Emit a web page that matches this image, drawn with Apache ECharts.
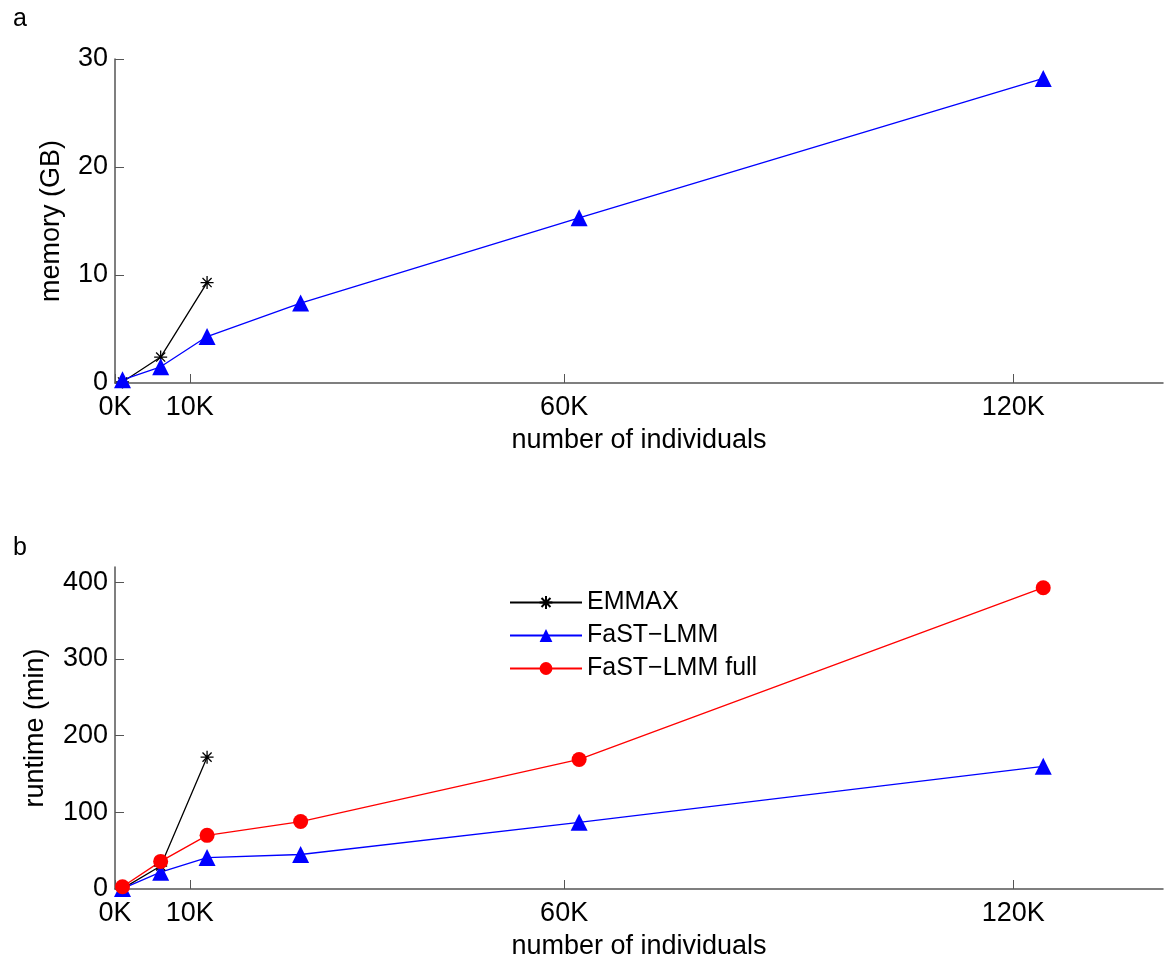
<!DOCTYPE html>
<html>
<head>
<meta charset="utf-8">
<script src="https://cdn.jsdelivr.net/npm/echarts@6/dist/echarts.min.js"></script>
<style>
  html, body { margin: 0; padding: 0; background: #fff; }
  #chart { width: 1164px; height: 961px; }
</style>
</head>
<body>
<div id="chart"></div>
<script type="text/javascript">
// number of individuals (thousands)
var xFast = [1, 6.1, 12.3, 24.8, 62, 124];
var xEmmax = [1, 6.1, 12.3];
var xTicks = [0, 10, 60, 120];

// panel a: memory (GB)
var memEmmax = [0.1, 2.4, 9.3];
var memFast = [0.3, 1.5, 4.3, 7.4, 15.3, 28.2];
var memTicks = [0, 10, 20, 30];

// panel b: runtime (min)
var timeEmmax = [0.5, 30, 172];
var timeFast = [0.5, 22, 41, 45, 87, 160];
var timeFull = [3, 36, 70, 88, 169, 393];
var timeTicks = [0, 100, 200, 300, 400];

var FONT = 'Liberation Sans, Arial, sans-serif';
var AXIS_COLOR = '#555';
var STAR = 'path://M0,-10L0,10M-10,0L10,0M-7,-7L7,7M-7,7L7,-7';

function pairs(xs, ys) {
    return xs.map(function (x, i) { return [x, ys[i]]; });
}

function xAxisFor(idx) {
    return {
        type: 'value', gridIndex: idx, min: 0, max: 140,
        name: 'number of individuals', nameLocation: 'middle', nameGap: 44,
        nameTextStyle: { fontFamily: FONT, fontSize: 27, color: '#000' },
        axisLine: { lineStyle: { color: AXIS_COLOR, width: 1.5 } },
        axisTick: { inside: true, length: 9, customValues: xTicks, lineStyle: { color: AXIS_COLOR } },
        axisLabel: { customValues: xTicks, formatter: '{value}K', fontFamily: FONT, fontSize: 27, color: '#000', margin: 11 },
        splitLine: { show: false }
    };
}

function yAxisFor(idx, max, ticks, name, gap) {
    return {
        type: 'value', gridIndex: idx, min: 0, max: max,
        name: name, nameLocation: 'middle', nameGap: gap,
        nameTextStyle: { fontFamily: FONT, fontSize: 27, color: '#000' },
        axisLine: { show: true, lineStyle: { color: AXIS_COLOR, width: 1.5 } },
        axisTick: { show: true, inside: true, length: 9, customValues: ticks, lineStyle: { color: AXIS_COLOR } },
        axisLabel: { customValues: ticks, fontFamily: FONT, fontSize: 27, color: '#000', margin: 7 },
        splitLine: { show: false }
    };
}

function lineSeries(name, idx, data, color, symbol, size) {
    var isStar = symbol === STAR;
    return {
        name: name, type: 'line', xAxisIndex: idx, yAxisIndex: idx,
        data: data, symbol: symbol, symbolSize: size, showAllSymbol: true,
        lineStyle: { color: color, width: 1.3 },
        itemStyle: isStar
            ? { color: 'rgba(0,0,0,0)', borderColor: color, borderWidth: 1.3 }
            : { color: color, borderWidth: 0 },
        emphasis: { disabled: true },
        animation: false
    };
}

var myChart = echarts.init(document.getElementById('chart'));
var option = {
    animation: false,
    backgroundColor: '#fff',
    title: [
        { text: 'a', left: 8, top: 2, textStyle: { fontFamily: FONT, fontSize: 25, fontWeight: 'normal', color: '#000' } },
        { text: 'b', left: 8, top: 531, textStyle: { fontFamily: FONT, fontSize: 25, fontWeight: 'normal', color: '#000' } }
    ],
    grid: [
        { left: 115, right: 1, top: 59, height: 324 },
        { left: 115, right: 1, top: 567, height: 324 }
    ],
    legend: {
        orient: 'vertical', left: 504, top: 585,
        itemWidth: 72, itemHeight: 16, itemGap: 8,
        textStyle: { fontFamily: FONT, fontSize: 25, color: '#000' },
        data: ['EMMAX', 'FaST\u2212LMM', 'FaST\u2212LMM full']
    },
    xAxis: [xAxisFor(0), xAxisFor(1)],
    yAxis: [
        yAxisFor(0, 30, memTicks, 'memory (GB)', 50),
        yAxisFor(1, 420, timeTicks, 'runtime (min)', 66)
    ],
    series: [
        lineSeries('EMMAX', 0, pairs(xEmmax, memEmmax), '#000', STAR, 13),
        lineSeries('FaST\u2212LMM', 0, pairs(xFast, memFast), '#0000ff', 'triangle', 17),
        lineSeries('EMMAX', 1, pairs(xEmmax, timeEmmax), '#000', STAR, 13),
        lineSeries('FaST\u2212LMM', 1, pairs(xFast, timeFast), '#0000ff', 'triangle', 17),
        lineSeries('FaST\u2212LMM full', 1, pairs(xFast, timeFull), '#ff0000', 'circle', 15)
    ]
};
myChart.setOption(option);
</script>
</body>
</html>
